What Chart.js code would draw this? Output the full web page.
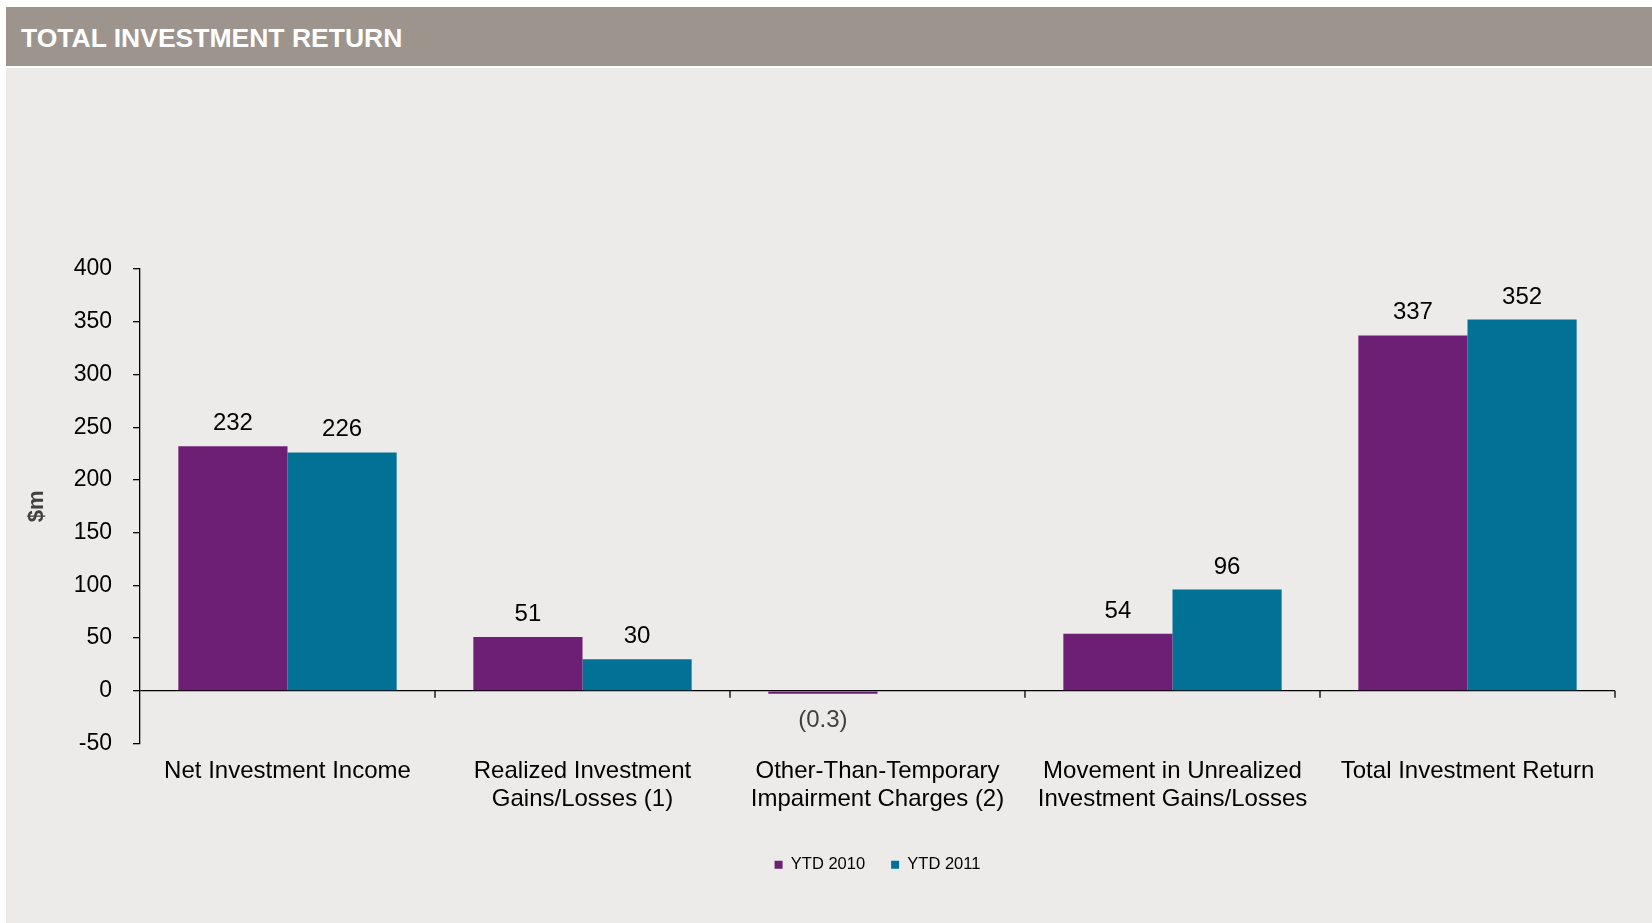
<!DOCTYPE html>
<html>
<head>
<meta charset="utf-8">
<title>Total Investment Return</title>
<script src="https://cdn.jsdelivr.net/npm/chart.js@4/dist/chart.umd.min.js"></script>
<style>
  html, body { margin: 0; padding: 0; background: #ffffff; width: 1652px; height: 923px; overflow: hidden; }
  .band { position: absolute; left: 6px; top: 7px; width: 1646px; height: 59px; background: #9d948e; }
  .band h1 { position: absolute; left: 15px; top: 18px; margin: 0; font: bold 26.5px/26px "Liberation Sans", Arial, sans-serif; color: #ffffff; letter-spacing: 0; }
  .panel { position: absolute; left: 6px; top: 68px; width: 1646px; height: 855px; background: #ecebe9; }
  #chart { position: absolute; left: 0; top: 0; }
</style>
</head>
<body>
<div class="band"><h1>TOTAL INVESTMENT RETURN</h1></div>
<div class="panel"></div>
<canvas id="chart" width="1652" height="923"></canvas>
<script>
// Categories along the x axis (multi-line labels as arrays)
const categories = [
  'Net Investment Income',
  ['Realized Investment', 'Gains/Losses (1)'],
  ['Other-Than-Temporary', 'Impairment Charges (2)'],
  ['Movement in Unrealized', 'Investment Gains/Losses'],
  'Total Investment Return'
];

// $m values per period
const ytd2010 = [232, 51, -0.3, 54, 337];
const ytd2011 = [226, 30, null, 96, 352];

const seriesNames = ['YTD 2010', 'YTD 2011'];

// y axis range and step
const yMin = -50;
const yMax = 400;
const yStep = 50;

const FONT = '"Liberation Sans", Arial, sans-serif';

// Writes each bar's value above it, negatives in accounting brackets below
const valueLabels = {
  id: 'valueLabels',
  afterDatasetsDraw(chart) {
    const ctx = chart.ctx;
    ctx.save();
    ctx.font = '24px ' + FONT;
    ctx.textAlign = 'center';
    ctx.textBaseline = 'alphabetic';
    chart.data.datasets.forEach((ds, di) => {
      const meta = chart.getDatasetMeta(di);
      meta.data.forEach((bar, i) => {
        const v = ds.data[i];
        if (v === null || v === undefined) return;
        if (v >= 0) {
          ctx.fillStyle = '#000000';
          ctx.fillText(String(v), bar.x, bar.y - 16);
        } else {
          ctx.fillStyle = '#404040';
          ctx.fillText('(' + Math.abs(v) + ')', bar.x, bar.y + 33);
        }
      });
    });
    ctx.restore();
  }
};

// Small downward tick marks on the zero line at category boundaries
const categoryTicks = {
  id: 'categoryTicks',
  afterDraw(chart) {
    const x = chart.scales.x;
    const y = chart.scales.y;
    const y0 = y.getPixelForValue(0);
    const n = chart.data.labels.length;
    const step = x.width / n;
    const ctx = chart.ctx;
    ctx.save();
    ctx.strokeStyle = '#000000';
    ctx.lineWidth = 1.3;
    ctx.beginPath();
    for (let k = 1; k <= n; k++) {
      const px = Math.round(x.left + k * step);
      ctx.moveTo(px, y0);
      ctx.lineTo(px, y0 + 7);
    }
    ctx.stroke();
    ctx.restore();
  }
};

new Chart(document.getElementById('chart'), {
  type: 'bar',
  data: {
    labels: categories,
    datasets: [
      {
        label: seriesNames[0],
        data: ytd2010,
        backgroundColor: '#6c1f74',
        minBarLength: 3,
        categoryPercentage: 0.74,
        barPercentage: 1.0
      },
      {
        label: seriesNames[1],
        data: ytd2011,
        backgroundColor: '#017296',
        categoryPercentage: 0.74,
        barPercentage: 1.0
      }
    ]
  },
  options: {
    responsive: false,
    animation: false,
    devicePixelRatio: 1,
    layout: { padding: { top: 269, left: 0, right: 37, bottom: 40 } },
    plugins: {
      legend: {
        position: 'bottom',
        fullSize: false,
        labels: {
          boxWidth: 8,
          boxHeight: 8,
          padding: 26,
          color: '#000000',
          font: { family: FONT, size: 16.5 }
        }
      },
      tooltip: { enabled: false },
      title: { display: false }
    },
    scales: {
      x: {
        grid: { display: false, drawTicks: false },
        border: { display: false },
        ticks: {
          color: '#000000',
          padding: 13,
          maxRotation: 0,
          autoSkip: false,
          font: { family: FONT, size: 24, lineHeight: 1.2 }
        },
        afterFit(scale) { scale.height = 87; }
      },
      y: {
        z: 1,
        min: yMin,
        max: yMax,
        ticks: {
          stepSize: yStep,
          color: '#000000',
          padding: 21,
          font: { family: FONT, size: 23 }
        },
        grid: {
          color: (c) => (c.tick && c.tick.value === 0 ? '#000000' : 'rgba(0,0,0,0)'),
          lineWidth: 1.3,
          tickColor: '#000000',
          tickLength: 7,
          tickWidth: 1.3
        },
        border: { display: true, color: '#000000', width: 1.3 },
        title: {
          display: true,
          text: '$m',
          color: '#404040',
          padding: { top: 24, bottom: 0 },
          font: { family: FONT, size: 22, weight: 'bold' }
        },
        afterFit(scale) { scale.width = 140; }
      }
    }
  },
  plugins: [valueLabels, categoryTicks]
});
</script>
</body>
</html>
